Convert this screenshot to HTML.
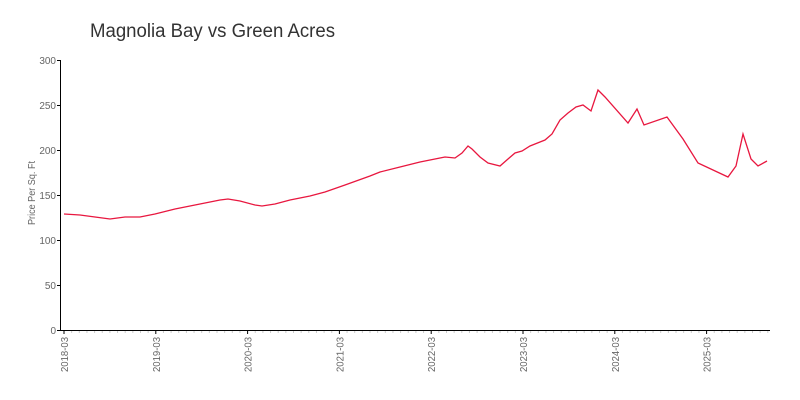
<!DOCTYPE html>
<html><head><style>
body{margin:0;background:#fff;}
svg{display:block;font-family:"Liberation Sans",sans-serif;}
</style></head><body>
<svg width="800" height="400" viewBox="0 0 800 400">
<text x="90" y="37" font-size="19" fill="#333" textLength="245" lengthAdjust="spacingAndGlyphs">Magnolia Bay vs Green Acres</text>
<g stroke="#ccc" stroke-width="1" id="minor"></g>
<line x1="60.5" y1="60" x2="60.5" y2="330" stroke="#000"/>
<line x1="60" y1="330.5" x2="770" y2="330.5" stroke="#000"/>
<g font-size="10" fill="#666" text-anchor="end">
<text x="56" y="64">300</text><text x="56" y="109">250</text><text x="56" y="154">200</text>
<text x="56" y="199">150</text><text x="56" y="244">100</text><text x="56" y="289">50</text><text x="56" y="334">0</text>
</g>
<g stroke="#000">
<line x1="57" x2="60" y1="60.5" y2="60.5"/><line x1="57" x2="60" y1="105.5" y2="105.5"/><line x1="57" x2="60" y1="150.5" y2="150.5"/>
<line x1="57" x2="60" y1="195.5" y2="195.5"/><line x1="57" x2="60" y1="240.5" y2="240.5"/><line x1="57" x2="60" y1="285.5" y2="285.5"/><line x1="57" x2="60" y1="330.5" y2="330.5"/>
</g>
<g id="xt" font-size="10" fill="#666"></g>
<text transform="translate(35,193) rotate(-90)" font-size="10" fill="#666" text-anchor="middle" textLength="64" lengthAdjust="spacingAndGlyphs">Price Per Sq. Ft</text>
<polyline fill="none" stroke="#e8173f" stroke-width="1.3" points="64,214 80,215 95,217 110,219 125,217 140,217 155,214 175,209 200,204 220,200 228,199 240,201 255,205 262,206 275,204 290,200 310,196 325,192 345,185 370,176 380,172 400,167 420,162 440,158 445,157 455,158 462,153 468,146 472,149 480,157 488,163 500,166 508,159 515,153 522,151 530,146 540,142 545,140 552,134 560,120 568,113 576,107 583,105 591,111 598,90 605,97 628,123 637,109 644,125 667,117 683,139 698,163 728,177 736,166 743,134 751,159 758,166 767,161"/>
<script>
var m=document.getElementById('minor'),t=document.getElementById('xt'),ns='http://www.w3.org/2000/svg';
for(var i=0;i<93;i++){var x=64+i*91.8/12;if(x>770)break;var l=document.createElementNS(ns,'line');
l.setAttribute('x1',x);l.setAttribute('x2',x);l.setAttribute('y1',331);l.setAttribute('y2',i%12?333:334);
if(!(i%12)){l.setAttribute('stroke','#000');var tx=document.createElementNS(ns,'text');
tx.setAttribute('transform','translate('+(x+4)+',337) rotate(-90)');tx.setAttribute('text-anchor','end');
tx.setAttribute('textLength','35');tx.setAttribute('lengthAdjust','spacingAndGlyphs');
tx.textContent=(2018+i/12)+'-03';t.appendChild(tx);}m.appendChild(l);}
</script>
</svg>
</body></html>
